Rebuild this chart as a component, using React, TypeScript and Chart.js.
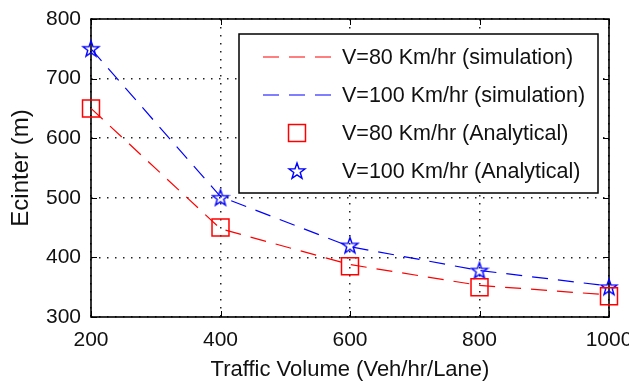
import React, { useEffect, useRef } from 'react';
import { Chart, registerables } from 'chart.js';
Chart.register(...registerables);

// ---- data ----
const trafficVolume = [200, 400, 600, 800, 1000];
const sim80 = [650, 448, 388, 353, 337];
const sim100 = [750, 502, 418, 378, 352];
const ana80 = [650, 450, 385, 350, 335];
const ana100 = [750, 500, 420, 378, 350];
const seriesLabels = [
  'V=80 Km/hr (simulation)',
  'V=100 Km/hr (simulation)',
  'V=80 Km/hr (Analytical)',
  'V=100 Km/hr (Analytical)',
];
const xTitle = 'Traffic Volume (Veh/hr/Lane)';
const yTitle = 'Ecinter (m)';

const RED = '#ff0000';
const BLUE = '#0000ff';
const FAMILY = '"Liberation Sans", Arial, Helvetica, sans-serif';
const FONT = { family: FAMILY, size: 21 };
const LEGEND_SIZE = 21.5;
const DASH = [16, 10];

function makeStar(): HTMLCanvasElement {
  const c = document.createElement('canvas');
  c.width = 20;
  c.height = 20;
  const g = c.getContext('2d')!;
  const cx = 10, cy = 10.5, R = 8.5, r = 3.4;
  g.beginPath();
  for (let i = 0; i < 10; i++) {
    const ang = -Math.PI / 2 + (i * Math.PI) / 5;
    const rad = i % 2 === 0 ? R : r;
    const px = cx + rad * Math.cos(ang);
    const py = cy + rad * Math.sin(ang);
    if (i === 0) g.moveTo(px, py);
    else g.lineTo(px, py);
  }
  g.closePath();
  g.strokeStyle = BLUE;
  g.lineWidth = 1.4;
  g.stroke();
  return c;
}

const pts = (ys: number[]) => trafficVolume.map((x, i) => ({ x, y: ys[i] }));

const framePlugin = {
  id: 'frame',
  beforeDatasetsDraw(chart: any) {
    const { ctx, chartArea, scales } = chart;
    const { left, right, top, bottom } = chartArea;
    ctx.save();
    ctx.strokeStyle = '#000';
    ctx.lineWidth = 1;
    const tl = 6;
    ctx.beginPath();
    scales.x.ticks.forEach((t: any) => {
      const px = Math.round(scales.x.getPixelForValue(t.value)) + 0.5;
      ctx.moveTo(px, bottom);
      ctx.lineTo(px, bottom - tl);
      ctx.moveTo(px, top);
      ctx.lineTo(px, top + tl);
    });
    scales.y.ticks.forEach((t: any) => {
      const py = Math.round(scales.y.getPixelForValue(t.value)) + 0.5;
      ctx.moveTo(left, py);
      ctx.lineTo(left + tl, py);
      ctx.moveTo(right, py);
      ctx.lineTo(right - tl, py);
    });
    ctx.stroke();
    ctx.lineWidth = 1.6;
    ctx.strokeRect(left, top, right - left, bottom - top);
    ctx.restore();
  },
};

const legendPlugin = {
  id: 'boxLegend',
  afterDatasetsDraw(chart: any) {
    const { ctx, chartArea } = chart;
    const bx = chartArea.left + 148;
    const by = chartArea.top + 15;
    const bw = chartArea.right - 11 - bx;
    const bh = 159;
    ctx.save();
    ctx.fillStyle = '#fff';
    ctx.fillRect(bx, by, bw, bh);
    ctx.strokeStyle = '#000';
    ctx.lineWidth = 1.5;
    ctx.strokeRect(bx, by, bw, bh);
    const rowY = [23, 61, 99, 137];
    const lx1 = bx + 24, lx2 = bx + 96, tx = bx + 103;
    chart.data.datasets.forEach((ds: any, i: number) => {
      const y = by + rowY[i];
      if (ds.showLine !== false) {
        ctx.save();
        ctx.strokeStyle = ds.borderColor;
        ctx.lineWidth = ds.borderWidth;
        ctx.setLineDash(ds.borderDash);
        ctx.beginPath();
        ctx.moveTo(lx1, y);
        ctx.lineTo(lx2, y);
        ctx.stroke();
        ctx.restore();
      } else {
        const cx = (lx1 + lx2) / 2 - 2;
        if (ds.pointStyle === 'rect') {
          ctx.save();
          ctx.strokeStyle = ds.pointBorderColor;
          ctx.lineWidth = ds.pointBorderWidth;
          const s = ds.pointRadius * Math.SQRT1_2;
          ctx.strokeRect(cx - s, y - s, 2 * s, 2 * s);
          ctx.restore();
        } else {
          const img = ds.pointStyle as HTMLCanvasElement;
          ctx.drawImage(img, cx - img.width / 2, y - img.height / 2);
        }
      }
      ctx.fillStyle = '#111';
      ctx.font = `${LEGEND_SIZE}px ${FAMILY}`;
      ctx.textBaseline = 'middle';
      ctx.textAlign = 'left';
      ctx.fillText(ds.label, tx, y + 1);
    });
    ctx.restore();
  },
};

export default function App() {
  const ref = useRef<HTMLCanvasElement>(null);
  useEffect(() => {
    const star = makeStar();
    const chart = new Chart(ref.current!, {
      type: 'line',
      data: {
        datasets: [
          {
            label: seriesLabels[0],
            data: pts(sim80),
            borderColor: RED,
            borderWidth: 1.2,
            borderDash: DASH,
            pointRadius: 0,
            fill: false,
            clip: false,
          },
          {
            label: seriesLabels[1],
            data: pts(sim100),
            borderColor: BLUE,
            borderWidth: 1.2,
            borderDash: DASH,
            pointRadius: 0,
            fill: false,
            clip: false,
          },
          {
            label: seriesLabels[2],
            data: pts(ana80),
            showLine: false,
            pointStyle: 'rect',
            pointRadius: 12,
            pointBorderColor: RED,
            pointBackgroundColor: 'rgba(0,0,0,0)',
            pointBorderWidth: 1.5,
            clip: false,
          },
          {
            label: seriesLabels[3],
            data: pts(ana100),
            showLine: false,
            pointStyle: star,
            pointRadius: 9,
            pointBorderColor: BLUE,
            pointBackgroundColor: 'rgba(0,0,0,0)',
            clip: false,
          },
        ] as any,
      },
      options: {
        animation: false,
        responsive: true,
        maintainAspectRatio: false,
        layout: { padding: { top: 19, right: 20, left: 0, bottom: 0 } },
        plugins: { legend: { display: false }, tooltip: { enabled: false } },
        scales: {
          x: {
            type: 'linear',
            min: 200,
            max: 1000,
            ticks: { stepSize: 200, padding: 11, color: '#111', font: FONT, callback: (v: any) => String(v) },
            grid: { color: '#222', lineWidth: 1.5, drawTicks: false },
            border: { display: false, dash: [1.5, 6.5] },
            title: { display: true, text: xTitle, color: '#111', font: { family: FAMILY, size: 22 }, padding: 0 },
            afterFit: (s: any) => {
              s.height = 66;
              s.paddingLeft = 0;
              s.paddingRight = 0;
            },
          },
          y: {
            type: 'linear',
            min: 300,
            max: 800,
            ticks: { stepSize: 100, padding: 10, color: '#111', font: FONT, callback: (v: any) => String(v) },
            grid: { color: '#222', lineWidth: 1.5, drawTicks: false },
            border: { display: false, dash: [1.5, 6.5] },
            title: { display: true, text: yTitle, color: '#111', font: { family: FAMILY, size: 24 }, padding: { top: 7, bottom: 0 } },
            afterFit: (s: any) => {
              s.width = 91;
              s.paddingTop = 0;
              s.paddingBottom = 0;
            },
          },
        } as any,
      },
      plugins: [framePlugin, legendPlugin],
    });
    return () => chart.destroy();
  }, []);
  return (
    <div style={{ position: 'absolute', left: 0, top: 0, width: 629, height: 383, background: '#fff' }}>
      <canvas ref={ref} />
    </div>
  );
}
